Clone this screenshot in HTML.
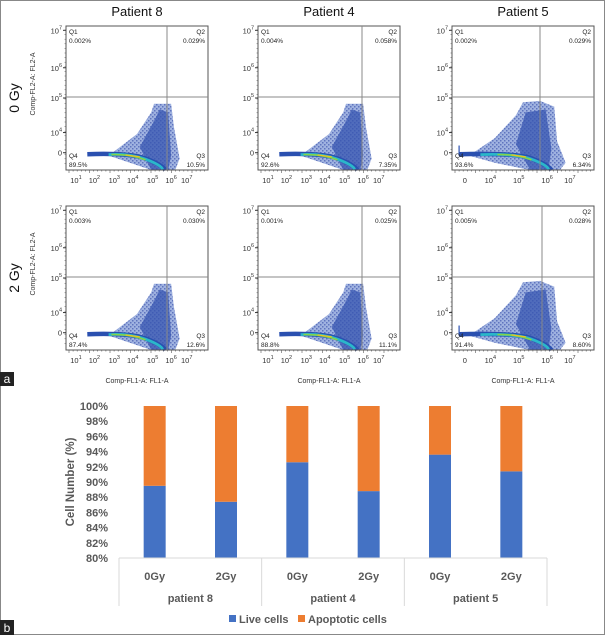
<!DOCTYPE html>
<html><head><meta charset="utf-8"><style>
body{margin:0;background:#fff;width:605px;height:635px;overflow:hidden}
svg{display:block;font-family:"Liberation Sans",sans-serif}
</style></head><body>
<svg id="fig" width="605" height="635" viewBox="0 0 605 635">
<defs>
<pattern id="speck" width="4" height="4" patternUnits="userSpaceOnUse">
<rect width="4" height="4" fill="#7f98d6"/>
<rect x="0" y="0" width="1.5" height="1.5" fill="#2a45a8"/>
<rect x="2" y="2" width="1.5" height="1.5" fill="#2a45a8"/>
</pattern>
</defs>
<rect x="0.5" y="0.5" width="604" height="634" fill="#fff" stroke="#888"/>
<g id="flow"></g>
<rect x="0" y="372" width="14" height="14" fill="#222"/>
<text x="7" y="383" fill="#fff" font-size="12" text-anchor="middle">a</text>
<g id="bars"></g>
<rect x="0" y="620" width="14" height="15" fill="#222"/>
<text x="7" y="632" fill="#fff" font-size="12" text-anchor="middle">b</text>
</svg>
<script>
// ---- bar chart data ----
const groups = ["patient 8","patient 4","patient 5"];
const doses = ["0Gy","2Gy","0Gy","2Gy","0Gy","2Gy"];
const liveCells = [89.5, 87.4, 92.6, 88.8, 93.6, 91.4];
const apoptoticCells = [10.5, 12.6, 7.4, 11.2, 6.4, 8.6];
const yTicks = [80,82,84,86,88,90,92,94,96,98,100];
// ---- flow data ----
const patients = ["Patient 8","Patient 4","Patient 5"];
const rowLabels = ["0 Gy","2 Gy"];
const q1 = [["0.002%","0.004%","0.002%"],["0.003%","0.001%","0.005%"]];
const q2 = [["0.029%","0.058%","0.029%"],["0.030%","0.025%","0.028%"]];
const q3 = [["10.5%","7.35%","6.34%"],["12.6%","11.1%","8.60%"]];
const q4 = [["89.5%","92.6%","93.6%"],["87.4%","88.8%","91.4%"]];

const NS="http://www.w3.org/2000/svg";
function mk(parent,tag,attrs,text){const e=document.createElementNS(NS,tag);for(const k in attrs)e.setAttribute(k,attrs[k]);if(text!==undefined)e.textContent=text;parent.appendChild(e);return e;}

// ---- flow plots ----
const flow=document.getElementById('flow');
const colX=[66,258,452], rowY=[26,206], FW=142, FH=144;
const vLineX=[[167,362,540],[167,362,542]];
patients.forEach((p,c)=>{
  const t=mk(flow,'text',{x:colX[c]+FW/2,y:16,'font-size':13,'text-anchor':'middle',fill:'#111'},p);
  
  
});
rowLabels.forEach((r,ri)=>{
  const cy=rowY[ri]+72;
  const t=mk(flow,'text',{x:0,y:0,'font-size':14,'text-anchor':'middle',fill:'#111',transform:`translate(19,${cy}) rotate(-90)`},r);
  
  
  const a=mk(flow,'text',{x:0,y:0,'font-size':7,'text-anchor':'middle',fill:'#333',transform:`translate(35,${cy-14}) rotate(-90)`},'Comp-FL2-A: FL2-A');
  
  
});
function sup(parent,x,y,base,exp,anchor){
  const t=mk(parent,'text',{x:x,y:y,'font-size':7.5,fill:'#333','text-anchor':anchor||'middle'});
  mk(t,'tspan',{},base);
  if(exp!==null){mk(t,'tspan',{dy:-4,'font-size':5.5},exp);}
  return t;
}
for(let r=0;r<2;r++)for(let c=0;c<3;c++){
  const x0=colX[c],y0=rowY[r];
  const g=mk(flow,'g',{});
  
  
  const W=FW,H=FH;
  const P=(fx,fy)=>(x0+fx*W).toFixed(1)+','+(y0+fy*H).toFixed(1);
  let outer,core,bx;
  if(c===2){
    outer=[[0.12,0.9],[0.3,0.78],[0.45,0.62],[0.5,0.53],[0.62,0.52],[0.72,0.56],[0.74,0.8],[0.8,0.95],[0.76,1],[0.55,1],[0.3,0.95]];
    core=[[0.45,0.82],[0.52,0.6],[0.66,0.58],[0.7,0.85],[0.68,1],[0.55,1]];
    bx=0.05;
  } else {
    outer=[[0.3,0.9],[0.5,0.75],[0.6,0.6],[0.62,0.54],[0.74,0.54],[0.76,0.7],[0.8,0.92],[0.77,1],[0.6,1],[0.45,0.95]];
    core=[[0.52,0.84],[0.63,0.64],[0.66,0.58],[0.72,0.6],[0.74,0.9],[0.72,1],[0.6,1]];
    bx=0.15;
  }
  mk(g,'polygon',{points:outer.map(p=>P(p[0],p[1])).join(' '),fill:'url(#speck)',opacity:0.75});
  mk(g,'polygon',{points:core.map(p=>P(p[0],p[1])).join(' '),fill:'#3654b0',opacity:0.75});
  // horizontal band
  mk(g,'path',{d:`M${P(bx,0.89)} Q${P(0.45,0.88)} ${P(0.56,0.92)} T${P(0.7,1)}`,stroke:'#2a50b0','stroke-width':4.5,fill:'none'});
  mk(g,'path',{d:`M${P(bx+0.15,0.893)} Q${P(0.45,0.885)} ${P(0.56,0.925)} T${P(0.68,0.995)}`,stroke:'#2bb7c9','stroke-width':2.8,fill:'none'});
  mk(g,'path',{d:`M${P(0.32,0.893)} Q${P(0.45,0.888)} ${P(0.56,0.93)}`,stroke:'#86d24a','stroke-width':1.6,fill:'none'});
  mk(g,'path',{d:`M${P(0.42,0.895)} L${P(0.52,0.908)}`,stroke:'#f0c020','stroke-width':1.2,fill:'none'});
  if(c===2) mk(g,'line',{x1:x0+bx*W,x2:x0+bx*W,y1:y0+0.83*H,y2:y0+0.9*H,stroke:'#2a50b0','stroke-width':1.2});
  // frame
  mk(g,'rect',{x:x0,y:y0,width:W,height:H,fill:'none',stroke:'#555','stroke-width':1});
  const hy=r===0?97:277;
  mk(g,'line',{x1:x0,x2:x0+W,y1:hy,y2:hy,stroke:'#888','stroke-width':1});
  mk(g,'line',{x1:vLineX[r][c],x2:vLineX[r][c],y1:y0,y2:y0+H,stroke:'#888','stroke-width':1});
  const ql=[[x0+3,y0+8,'Q1','start'],[x0+3,y0+17,q1[r][c],'start'],[x0+W-3,y0+8,'Q2','end'],[x0+W-3,y0+17,q2[r][c],'end'],
            [x0+3,y0+H-12,'Q4','start'],[x0+3,y0+H-3,q4[r][c],'start'],[x0+W-3,y0+H-12,'Q3','end'],[x0+W-3,y0+H-3,q3[r][c],'end']];
  ql.forEach(q=>{const t=mk(g,'text',{x:q[0],y:q[1],'font-size':6.5,fill:'#222','text-anchor':q[3]},q[2]);
    
    });
  const yl=[[0.03,'10','7'],[0.29,'10','6'],[0.5,'10','5'],[0.74,'10','4'],[0.88,'0',null]];
  yl.forEach(t=>{sup(g,x0-4,y0+t[0]*H+3,t[1],t[2],'end');mk(g,'line',{x1:x0-3,x2:x0,y1:y0+t[0]*H,y2:y0+t[0]*H,stroke:'#333'});});
  for(let k=0;k<30;k++){const yy=y0+4+k*4.6;mk(g,'line',{x1:x0-1.5,x2:x0,y1:yy,y2:yy,stroke:'#555','stroke-width':0.5});}
  let xl;
  if(c===2) xl=[[0.09,'0',null],[0.27,'10','4'],[0.47,'10','5'],[0.67,'10','6'],[0.83,'10','7']];
  else xl=[[0.07,'10','1'],[0.2,'10','2'],[0.34,'10','3'],[0.47,'10','4'],[0.61,'10','5'],[0.74,'10','6'],[0.85,'10','7']];
  xl.forEach(t=>{sup(g,x0+t[0]*W,y0+H+13,t[1],t[2]);});
  for(let k=0;k<34;k++){const xx=x0+3+k*4.1;mk(g,'line',{x1:xx,x2:xx,y1:y0+H,y2:y0+H+(k%5===0?3:1.5),stroke:'#555','stroke-width':0.6});}
  if(r===1){const t=mk(g,'text',{x:x0+W/2,y:383,'font-size':7,'text-anchor':'middle',fill:'#333'},'Comp-FL1-A: FL1-A');
    
    }
}

// ---- bar chart ----
const bars=document.getElementById('bars');
const X0=119,X1=547,Y80=558,Y100=406,BW=22;
const vmin=yTicks[0], vmax=yTicks[yTicks.length-1];
const yS=v=>Y80-(v-vmin)*(Y80-Y100)/(vmax-vmin);
const step=(X1-X0)/doses.length;
const xS=i=>X0+step*(i+0.5);
const gray='#595959';
yTicks.forEach(v=>{
  const t=mk(bars,'text',{x:108,y:yS(v)+4,'font-size':11,'font-weight':'bold',fill:gray,'text-anchor':'end'},v+'%');
  
  
});
const yt=mk(bars,'text',{x:0,y:0,'font-size':11.5,'font-weight':'bold',fill:gray,'text-anchor':'middle',transform:`translate(74,${(Y80+Y100)/2}) rotate(-90)`},'Cell Number (%)');


liveCells.forEach((v,i)=>{
  const b=mk(bars,'rect',{x:xS(i)-BW/2,y:yS(v),width:BW,height:Y80-yS(v),fill:'#4472C4'});
  
  
  const top=Math.min(v+apoptoticCells[i],vmax);
  const o=mk(bars,'rect',{x:xS(i)-BW/2,y:yS(top),width:BW,height:yS(v)-yS(top),fill:'#ED7D31'});
  
  
  const t=mk(bars,'text',{x:xS(i),y:580,'font-size':11,'font-weight':'bold',fill:gray,'text-anchor':'middle'},doses[i]);
  
  
});
mk(bars,'line',{x1:X0,x2:X1,y1:Y80,y2:Y80,stroke:'#d9d9d9'});
for(let k=0;k<=groups.length;k++){const xx=X0+k*(X1-X0)/groups.length;mk(bars,'line',{x1:xx,x2:xx,y1:Y80,y2:606,stroke:'#d9d9d9'});}
groups.forEach((g,k)=>{
  const t=mk(bars,'text',{x:X0+(k+0.5)*(X1-X0)/groups.length,y:602,'font-size':11,'font-weight':'bold',fill:gray,'text-anchor':'middle'},g);
  
  
});
const l1=mk(bars,'rect',{x:229,y:615,width:7,height:7,fill:'#4472C4'});


const lt1=mk(bars,'text',{x:239,y:623,'font-size':11,'font-weight':'bold',fill:gray},'Live cells');


const l2=mk(bars,'rect',{x:298,y:615,width:7,height:7,fill:'#ED7D31'});


const lt2=mk(bars,'text',{x:308,y:623,'font-size':11,'font-weight':'bold',fill:gray},'Apoptotic cells');


</script>
</body></html>
